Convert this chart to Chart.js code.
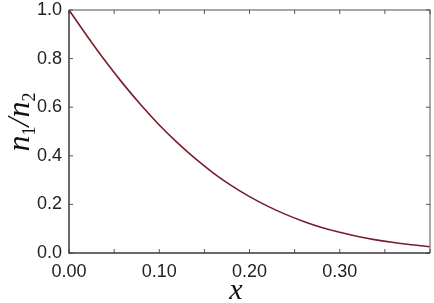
<!DOCTYPE html>
<html>
<head>
<meta charset="utf-8">
<script src="https://cdn.jsdelivr.net/npm/chart.js@4.4.0/dist/chart.umd.min.js"></script>
<style>
  html, body { margin: 0; padding: 0; background: #fff; }
  #wrap { width: 434px; height: 303px; }
</style>
</head>
<body>
<div id="wrap"><canvas id="c" width="434" height="303"></canvas></div>
<script>
'use strict';

// values
const X_VALUES = [0.00, 0.02, 0.04, 0.06, 0.08, 0.10, 0.12, 0.14, 0.16, 0.18, 0.20,
                  0.22, 0.24, 0.26, 0.28, 0.30, 0.32, 0.34, 0.36, 0.38, 0.40];
const RATIO = [1.000, 0.893, 0.791, 0.696, 0.608, 0.527, 0.454, 0.388, 0.329, 0.277, 0.232,
               0.193, 0.159, 0.130, 0.105, 0.085, 0.068, 0.054, 0.043, 0.034, 0.026];
const X_LABELS = [0.00, 0.10, 0.20, 0.30];
const Y_LABELS = [0.0, 0.2, 0.4, 0.6, 0.8, 1.0];

const LINE_COLOR = '#7b1c2c';
const TICK_FONT = { family: 'Liberation Sans, Arial, sans-serif', size: 18 };
const SERIF = '"Liberation Serif", "Times New Roman", serif';

// frame, inward ticks and the axis titles
const framePlugin = {
  id: 'frame',
  afterDraw(chart) {
    const { ctx, chartArea: a, scales } = chart;
    const xs = scales.x, ys = scales.y;
    ctx.save();
    ctx.lineWidth = 1.5;

    // top + right (lighter)
    ctx.strokeStyle = '#8a8a8a';
    ctx.beginPath();
    ctx.moveTo(a.left, a.top); ctx.lineTo(a.right, a.top); ctx.lineTo(a.right, a.bottom);
    ctx.stroke();

    // ticks
    ctx.lineWidth = 1;
    ctx.strokeStyle = '#555';
    xs.ticks.forEach(t => {
      const px = xs.getPixelForValue(t.value);
      ctx.beginPath();
      ctx.moveTo(px, a.bottom); ctx.lineTo(px, a.bottom - 4);
      ctx.moveTo(px, a.top); ctx.lineTo(px, a.top + 4);
      ctx.stroke();
    });
    ys.ticks.forEach(t => {
      const py = ys.getPixelForValue(t.value);
      ctx.beginPath();
      ctx.moveTo(a.left, py); ctx.lineTo(a.left + 4, py);
      ctx.moveTo(a.right, py); ctx.lineTo(a.right - 4, py);
      ctx.stroke();
    });

    // left + bottom (darker)
    ctx.lineWidth = 1.5;
    ctx.strokeStyle = '#3a3a3a';
    ctx.beginPath();
    ctx.moveTo(a.left, a.top); ctx.lineTo(a.left, a.bottom); ctx.lineTo(a.right, a.bottom);
    ctx.stroke();

    // x title
    ctx.fillStyle = '#111';
    ctx.font = 'italic 30px ' + SERIF;
    ctx.textAlign = 'center';
    ctx.textBaseline = 'alphabetic';
    ctx.fillText('x', 236, 299);

    // y title n1/n2, rotated
    ctx.translate(29, 122);
    ctx.rotate(-Math.PI / 2);
    const big = 'italic 32px ' + SERIF;
    const small = '18px ' + SERIF;
    const parts = [
      { t: 'n', f: big, dy: 0 },
      { t: '1', f: small, dy: 6 },
      { t: '/', f: big, dy: 0 },
      { t: 'n', f: big, dy: 0 },
      { t: '2', f: small, dy: 6 }
    ];
    let total = 0;
    parts.forEach(p => { ctx.font = p.f; p.w = ctx.measureText(p.t).width; total += p.w; });
    let x0 = -total / 2;
    ctx.textAlign = 'left';
    parts.forEach(p => {
      ctx.font = p.f;
      ctx.fillText(p.t, x0, p.dy);
      x0 += p.w;
    });
    ctx.restore();
  }
};

new Chart(document.getElementById('c'), {
  type: 'scatter',
  data: {
    datasets: [{
      data: X_VALUES.map((x, i) => ({ x, y: RATIO[i] })),
      showLine: true,
      borderColor: LINE_COLOR,
      borderWidth: 1.6,
      pointRadius: 0,
      tension: 0.4,
      fill: false
    }]
  },
  options: {
    responsive: false,
    animation: false,
    layout: { padding: { top: 10, right: 4, left: 0, bottom: 0 } },
    plugins: { legend: { display: false }, tooltip: { enabled: false } },
    scales: {
      x: {
        type: 'linear',
        min: 0, max: 0.40,
        grid: { display: false, drawTicks: false },
        border: { display: false },
        afterFit(s) { s.height = 50; s.paddingLeft = 0; s.paddingRight = 0; },
        ticks: {
          stepSize: 0.05,
          autoSkip: false,
          maxRotation: 0,
          padding: 8,
          color: '#222',
          font: TICK_FONT,
          callback(v) {
            const hit = X_LABELS.find(l => Math.abs(l - v) < 1e-6);
            return hit === undefined ? '' : hit.toFixed(2);
          }
        }
      },
      y: {
        min: 0, max: 1,
        grid: { display: false, drawTicks: false },
        border: { display: false },
        afterFit(s) { s.width = 69; s.paddingTop = 0; s.paddingBottom = 0; },
        ticks: {
          stepSize: 0.2,
          padding: 7,
          color: '#222',
          font: TICK_FONT,
          callback(v) {
            const hit = Y_LABELS.find(l => Math.abs(l - v) < 1e-6);
            return hit === undefined ? '' : hit.toFixed(1);
          }
        }
      }
    }
  },
  plugins: [framePlugin]
});
</script>
</body>
</html>
